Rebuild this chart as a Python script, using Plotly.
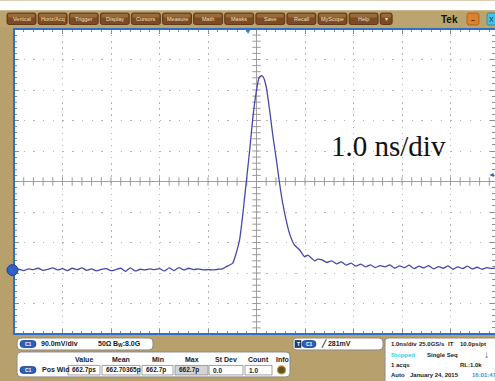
import plotly.graph_objects as go

# ---------------- data ----------------
time_ns = [
    -5.0, -4.9, -4.8, -4.7, -4.6, -4.5, -4.4, -4.3, -4.2, -4.1,
    -4.0, -3.9, -3.8, -3.7, -3.6, -3.5, -3.4, -3.3, -3.2, -3.1,
    -3.0, -2.9, -2.8, -2.7, -2.6, -2.5, -2.4, -2.3, -2.2, -2.1,
    -2.0, -1.9, -1.8, -1.7, -1.6, -1.5, -1.4, -1.3, -1.2, -1.1,
    -1.0, -0.9, -0.8, -0.7,
    -0.62, -0.56, -0.49, -0.42, -0.35, -0.28, -0.21, -0.14, -0.08, -0.01,
    0.05, 0.10, 0.14, 0.20, 0.27, 0.34, 0.41, 0.47, 0.54, 0.61,
    0.68, 0.78, 0.89, 0.99, 1.06, 1.13, 1.20, 1.26,
    1.35, 1.45, 1.55, 1.65, 1.75, 1.85, 1.95, 2.05, 2.15, 2.25,
    2.35, 2.45, 2.55, 2.65, 2.75, 2.85, 2.95, 3.05, 3.15, 3.25,
    3.35, 3.45, 3.55, 3.65, 3.75, 3.85, 3.95, 4.05, 4.15, 4.25,
    4.35, 4.45, 4.55, 4.65, 4.75, 4.85, 4.95,
]
ch1_mV = [
    0, 2, -2, 3, 1, 5, -1, 2, 6, 0,
    4, -2, 5, 1, 6, -1, 3, -3, 2, 4,
    -2, 1, 5, -4, 6, -3, 2, 0, 3, 1,
    4, -3, 6, -2, 7, 0, 5, 1, 3, 0,
    1, 0, 2, 3,
    10, 14, 20, 49, 88, 167, 261, 354, 443, 521,
    566, 573, 569, 541, 472, 393, 325, 261, 197, 148,
    108, 74, 59, 39, 44, 35, 27, 32,
    30, 22, 27, 18, 24, 14, 20, 11, 17, 9,
    15, 7, 13, 9, 15, 5, 12, 7, 14, 4,
    11, 6, 13, 3, 10, 5, 12, 2, 9, 4,
    11, 3, 8, 2, 7, 4, 6,
]
MV_PER_DIV = 90.0
GROUND_DIV = -2.9

menu_labels = ["Vertical", "Horiz/Acq", "Trigger", "Display", "Cursors", "Measure",
               "Math", "Masks", "Save", "Recall", "MyScope", "Help", "▾"]
meas_headers = ["Value", "Mean", "Min", "Max", "St Dev", "Count", "Info"]
meas_values = ["662.7ps", "662.70365p", "662.7p", "662.7p", "0.0", "1.0"]

# ---------------- geometry ----------------
W, H = 495, 381
L, R, T, B = 14, 0, 28.5, 47
PW, PH = W - L - R, H - T - B
XMIN = -5.0
XMAX = XMIN + PW / 48.5


def px(x):
    return (x - L) / PW


def py(y):
    return (H - B - y) / PH


def rrect_path(x0, y0, x1, y1, r):
    def p(x, y):
        return f"{px(x):.5f},{py(y):.5f}"
    return (f"M{p(x0 + r, y0)} L{p(x1 - r, y0)} Q{p(x1, y0)} {p(x1, y0 + r)} "
            f"L{p(x1, y1 - r)} Q{p(x1, y1)} {p(x1 - r, y1)} L{p(x0 + r, y1)} "
            f"Q{p(x0, y1)} {p(x0, y1 - r)} L{p(x0, y0 + r)} Q{p(x0, y0)} {p(x0 + r, y0)} Z")


shapes = []
annos = []


def rect(x0, y0, x1, y1, fill, line="rgba(0,0,0,0)", lw=1, r=0, layer="above"):
    if r > 0:
        shapes.append(dict(type="path", path=rrect_path(x0, y0, x1, y1, r), xref="paper",
                           yref="paper", fillcolor=fill, line=dict(color=line, width=lw),
                           layer=layer))
    else:
        shapes.append(dict(type="rect", xref="paper", yref="paper", x0=px(x0), x1=px(x1),
                           y0=py(y1), y1=py(y0), fillcolor=fill,
                           line=dict(color=line, width=lw), layer=layer))


def text(x, y, s, size=7, color="#1a1a1a", anchor="left", bold=True, family="Liberation Sans"):
    if bold:
        s = f"<b>{s}</b>"
    annos.append(dict(x=px(x), y=py(y), xref="paper", yref="paper", text=s, showarrow=False,
                      xanchor=anchor, yanchor="middle",
                      font=dict(size=size, color=color, family=family)))


def pill(x0, x1, yc, label="C1"):
    rect(x0, yc - 3.5, x1, yc + 3.5, "#2d5fb8", "#1c3f85", 0.8, r=3.5)
    text((x0 + x1) / 2, yc, label, size=5, color="white", anchor="center")


# top white strip and menu bar
rect(0, 0, W, 10, "white")
rect(0, 10, W, 27, "#bca46e")
for i, lab in enumerate(menu_labels):
    x0 = 7 + 31.1 * i
    x1 = x0 + (12 if lab == "▾" else 29)
    rect(x0, 12.5, x1, 24, "#7d4a22", "#4f2c10", 0.8, r=2)
    rect(x0 + 1, 13.2, x1 - 1, 17, "#9a6a3a", r=1.5)
    text((x0 + x1) / 2, 18.5, lab, size=5.5, color="#f2e2c0", anchor="center", bold=False)
text(449, 18.5, "Tek", size=10, color="#111111", anchor="center")
rect(467, 12.5, 479, 24.5, "#e0802a", "#a85a10", 0.8, r=2)
text(473, 18.5, "–", size=7, color="#3a1a00", anchor="center")
rect(487, 12.5, 500, 24.5, "#48c0e0", "#2080a8", 0.8, r=2)
text(491, 18.5, "X", size=7, color="#0a3050", anchor="center", bold=False)

# plot border
shapes.append(dict(type="rect", xref="paper", yref="paper", x0=0, x1=1.05, y0=0, y1=1,
                   line=dict(color="#2f6fc8", width=2), layer="above"))

# bottom panels
rect(17, 338, 153, 350, "white", "#8a8a8a", 1, r=4)
pill(20, 36, 344)
text(39, 344, "90.0mV/div")
text(96, 344, "50Ω")
text(111, 344, "B<sub>W</sub>:8.0G")

rect(17, 352, 290, 377, "white", "#8a8a8a", 1, r=4)
head_x = [84, 121, 157.5, 191.5, 226, 258.5, 282]
for hx, hs in zip(head_x, meas_headers):
    text(hx, 360, hs, anchor="center")
pill(20, 36, 370)
text(40, 370, "Pos Wid")
cells = [(68, 100), (102, 140), (142, 173), (175, 208), (209, 243), (245, 272)]
for k, ((c0, c1), val) in enumerate(zip(cells, meas_values)):
    fill = "#d4d4d4" if k == 3 else "white"
    rect(c0, 365.5, c1, 375, fill, "#8a8a8a", 0.8)
    text(c0 + 1.5, 370.3, val, size=6.5)
shapes.append(dict(type="circle", xref="paper", yref="paper", x0=px(277.5), x1=px(285.5),
                   y0=py(374), y1=py(366), fillcolor="#5a5a20",
                   line=dict(color="#d08a30", width=1.2)))

rect(293, 338, 383, 350, "white", "#8a8a8a", 1, r=4)
rect(295, 340.5, 301, 347.5, "#1e3c7a", "#0e1f40", 0.6)
text(298, 344, "T", size=5, color="white", anchor="center")
pill(302, 316, 344)
text(319, 344, "╱ 281mV")

rect(385, 338, 505, 390, "white", "#8a8a8a", 1, r=4)
text(389, 344, "1.0ns/div", size=6)
text(417, 344, "25.0GS/s", size=6)
text(446, 344, "IT", size=6)
text(458, 344, "10.0ps/pt", size=6)
text(389, 355, "Stopped", size=6, color="#40c8e0")
text(425, 355, "Single Seq", size=6)
text(486, 355, "↓", size=10, color="#1a50c0", anchor="center")
text(389, 365, "1 acqs", size=6)
text(458, 365, "RL:1.0k", size=6)
text(389, 375, "Auto", size=6)
text(408, 375, "January 24, 2015", size=6)
text(470, 375, "16:01:47", size=6, color="#4a8ad8")

# markers: ground, trigger position, trigger level
shapes.append(dict(type="circle", xref="paper", yref="paper", x0=px(7), x1=px(18),
                   y0=py(275.5), y1=py(264.5), fillcolor="#2f62c8",
                   line=dict(color="#1a3f90", width=1)))
text(248, 31, "▼", size=8, color="#2f7ad0", anchor="center", bold=False)
text(491, 174, "◄", size=7, color="#2f62c8", anchor="center", bold=False)

# "1.0 ns/div" label
annos.append(dict(x=px(329), y=py(146), xref="paper", yref="paper", text="1.0 ns/div",
                  showarrow=False, xanchor="left", yanchor="middle",
                  font=dict(size=29, color="#111111", family="Liberation Serif")))

# ---------------- figure ----------------
fig = go.Figure()

# center-cross minor ticks (decoration)
steps = [i / 5 for i in range(-25, 26)]
xsteps = [s for s in steps if XMIN < s < XMAX]
fig.add_trace(go.Scatter(x=xsteps, y=[0] * len(xsteps),
                         mode="markers", hoverinfo="skip", showlegend=False,
                         marker=dict(symbol="line-ns", size=6,
                                     line=dict(color="#9a9a9a", width=1))))
fig.add_trace(go.Scatter(x=[0] * len(steps), y=steps, mode="markers", hoverinfo="skip",
                         showlegend=False,
                         marker=dict(symbol="line-ew", size=6,
                                     line=dict(color="#9a9a9a", width=1))))

fig.add_trace(go.Scatter(
    x=time_ns,
    y=[v / MV_PER_DIV + GROUND_DIV for v in ch1_mV],
    mode="lines", showlegend=False,
    line=dict(color="#4848aa", width=1.3, shape="spline", smoothing=0.5),
))

axis_common = dict(showticklabels=False, showgrid=True, gridcolor="#b4b4b4", gridwidth=1.3,
                   zeroline=True, zerolinecolor="#a0a0a0", zerolinewidth=1,
                   ticks="inside", ticklen=5, tickcolor="#8c8c8c", dtick=1, tick0=0,
                   showline=False, mirror="ticks", fixedrange=True)

fig.update_xaxes(range=[XMIN, XMAX], griddash="1.3px,4.8px",
                 minor=dict(dtick=0.2, tick0=0, ticks="inside", ticklen=3,
                            tickcolor="#8c8c8c", showgrid=False), **axis_common)
fig.update_yaxes(range=[-5, 5], griddash="1.3px,8.4px",
                 minor=dict(dtick=0.2, tick0=0, ticks="inside", ticklen=3,
                            tickcolor="#8c8c8c", showgrid=False), **axis_common)

fig.update_layout(
    width=W, height=H,
    margin=dict(l=L, r=R, t=T, b=B, pad=0),
    paper_bgcolor="#b8a06c",
    plot_bgcolor="white",
    shapes=shapes,
    annotations=annos,
    showlegend=False,
)

fig.write_html(
    "out.html",
    config={"displayModeBar": False},
    post_script="document.body.style.margin='0';document.body.style.overflow='hidden';",
)
